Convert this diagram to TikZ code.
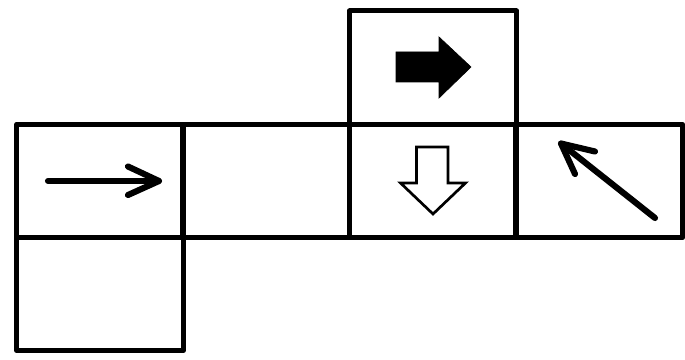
\documentclass[tikz,border=0pt]{standalone}
\begin{document}
\begin{tikzpicture}[x=0.75pt,y=-0.75pt,
  cell/.style={draw=black,line width=3.9pt,rectangle,inner sep=0pt,outer sep=0pt,
    minimum width=124.9pt,minimum height=84.9pt,line join=round},
  thinarrow/.style={draw=black,line width=4.6pt,line cap=round,line join=round},
  blockarrow/.style={fill=black,draw=black,line width=0.5pt},
  hollowarrow/.style={draw=black,fill=white,line width=2pt,line join=miter}]
\useasboundingbox (0,0) rectangle (685,360);
\fill[white] (0,0) rectangle (685,360);
% cells
\node[cell] (top)  at (433,67.5) {};
\node[cell] (c1)   at (100,181) {};
\node[cell] (c2)   at (266.25,181) {};
\node[cell] (c3)   at (433,181) {};
\node[cell] (c4)   at (599.25,181) {};
\node[cell] (bot)  at (100,293.75) {};
% arrow in c1
\draw[thinarrow] (48,181) -- (159,181);
\draw[thinarrow] (128,166.5) -- (159,181) -- (128,195);
% black block arrow in top
\filldraw[blockarrow] (396,52) -- (439,52) -- (439,37) -- (471,67) -- (439,98) -- (439,82) -- (396,82) -- cycle;
% hollow down arrow in c3
\draw[hollowarrow] (416.5,147) -- (448,147) -- (448,183) -- (465.5,183) -- (433,214) -- (400.5,183) -- (416.5,183) -- cycle;
% diagonal arrow in c4
\draw[thinarrow] (655,218) -- (561,143.5);
\draw[thinarrow] (595,151.5) -- (561,143.5) -- (575,174);
\end{tikzpicture}
\end{document}
